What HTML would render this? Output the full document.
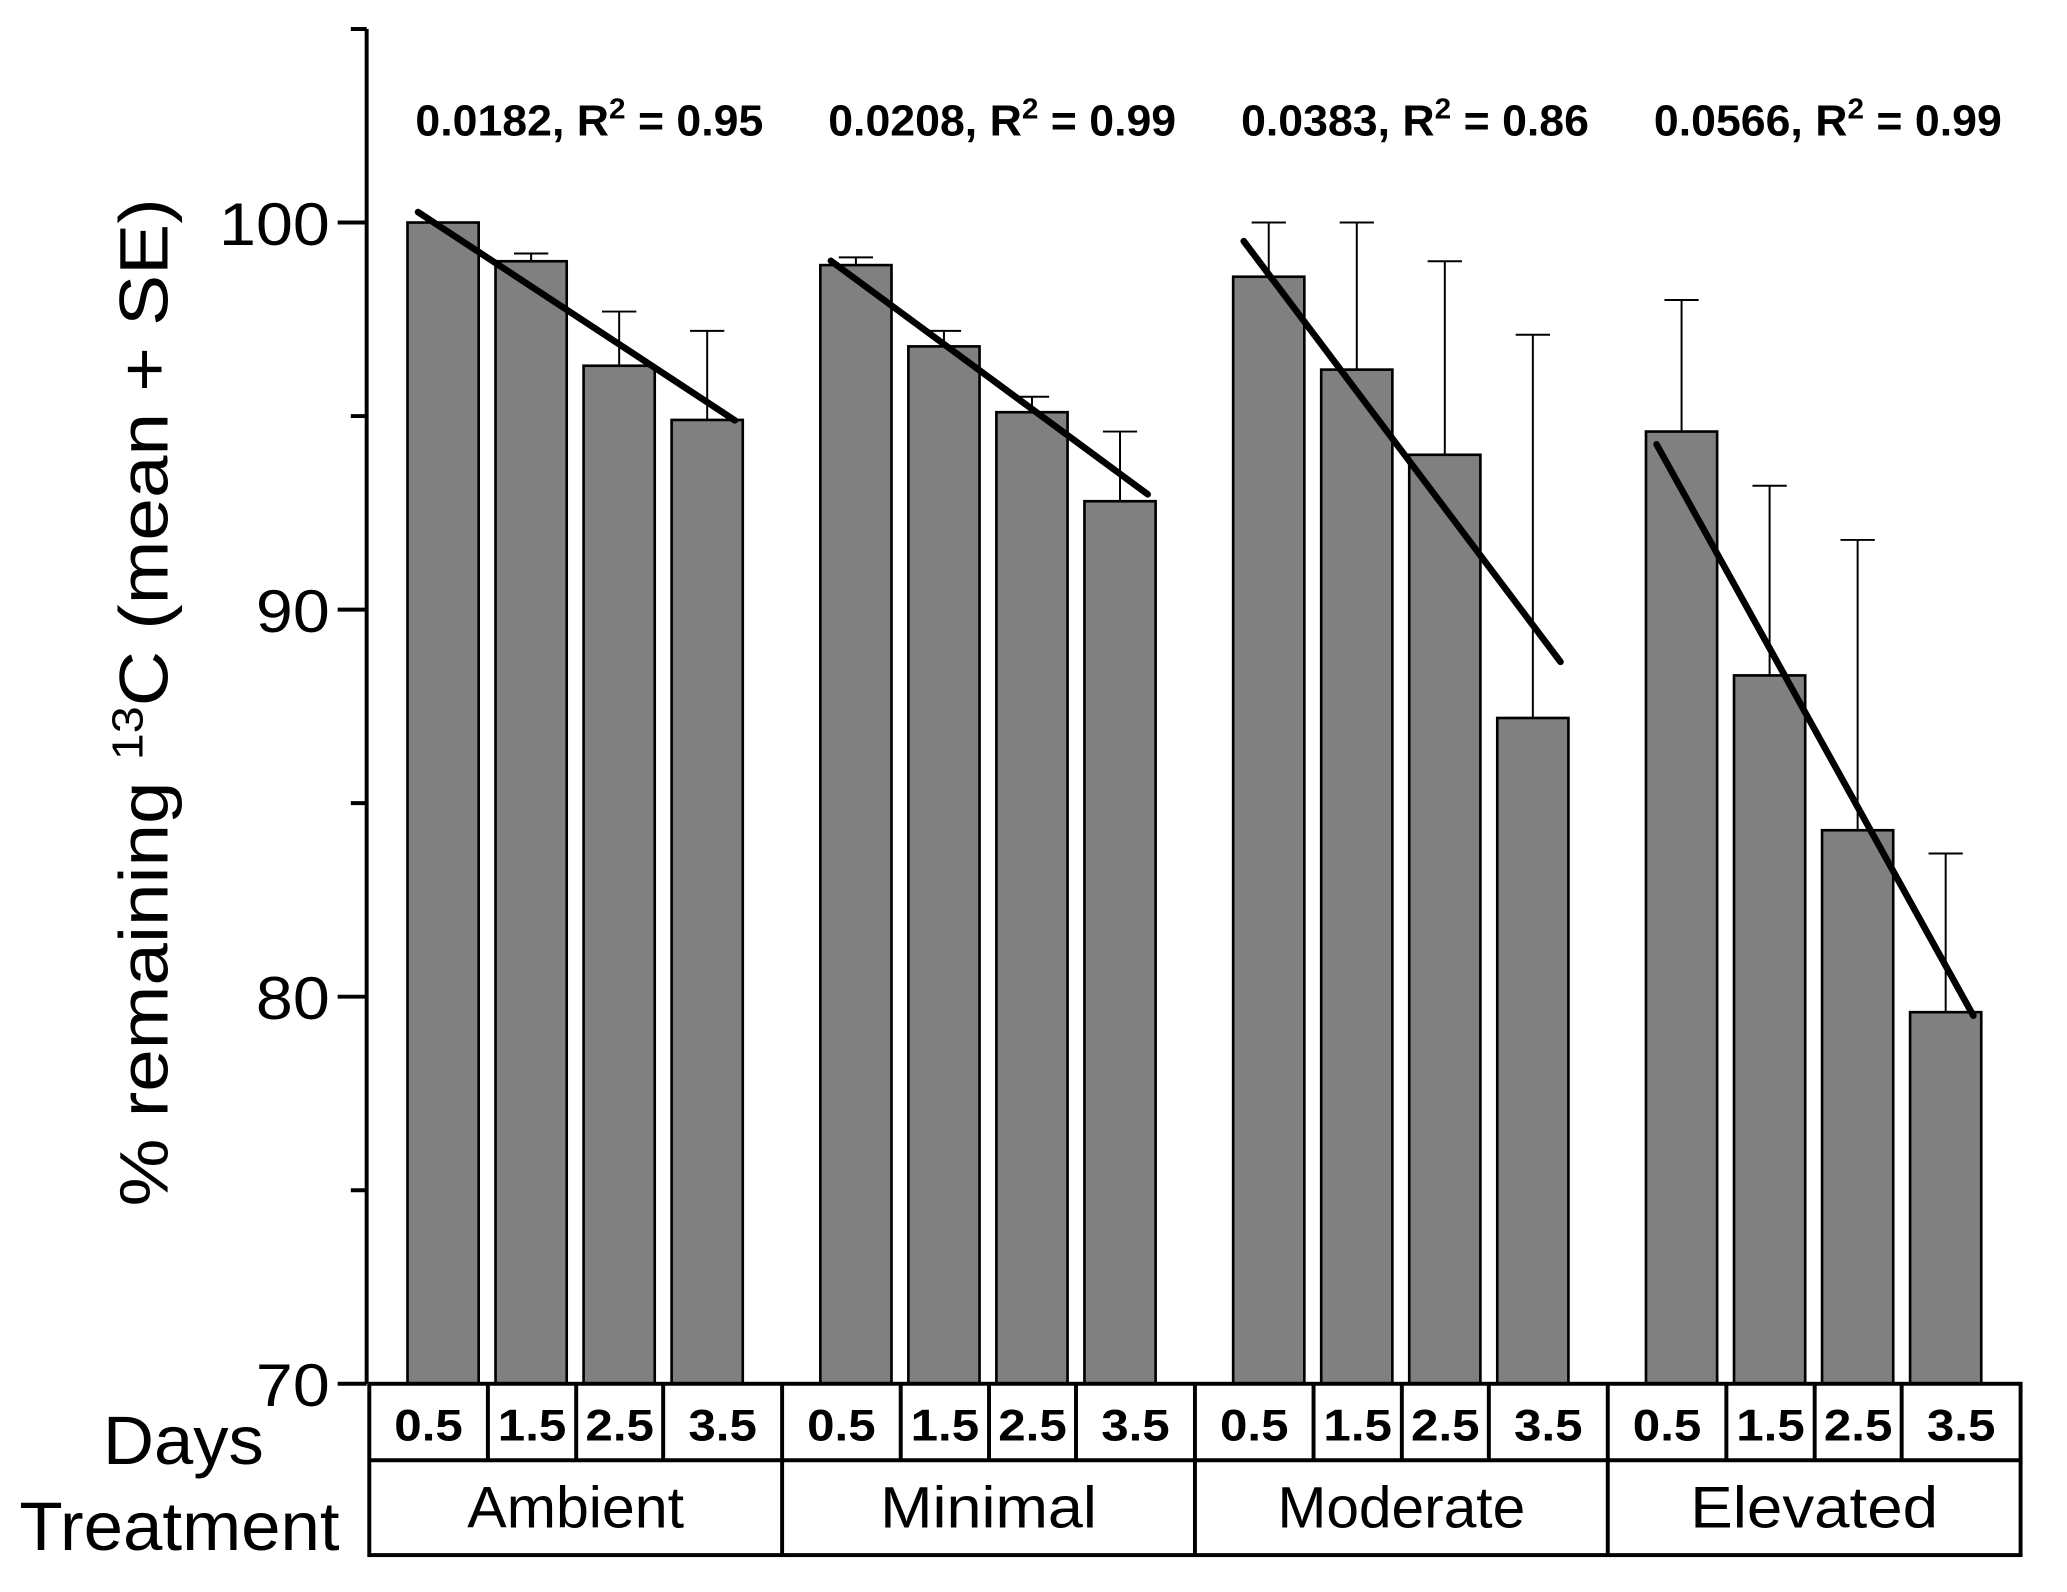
<!DOCTYPE html>
<html><head><meta charset="utf-8"><style>
html,body{margin:0;padding:0;background:#fff}
svg{display:block}
text{font-family:"Liberation Sans",Arial,sans-serif}
</style></head><body>
<svg id="chart" width="2067" height="1592" viewBox="0 0 1568 1208" xmlns="http://www.w3.org/2000/svg">
<g id="plot"></g>
</svg>
<script>
const groups = ["Ambient","Minimal","Moderate","Elevated"];
const days = ["0.5","1.5","2.5","3.5"];
const means = [[100,99.0,96.3,94.9],[98.9,96.8,95.1,92.8],[98.6,96.2,94.0,87.2],[94.6,88.3,84.3,79.6]];
const errTops = [[null,99.2,97.7,97.2],[99.1,97.2,95.5,94.6],[100,100,99.0,97.1],[98.0,93.2,91.8,83.7]];
const trendStart = [100.27,99.01,99.52,94.27];
const trendEnd = [94.89,92.98,88.65,79.51];
const rates = ["0.0182","0.0208","0.0383","0.0566"];
const r2 = ["0.95","0.99","0.86","0.99"];
const yTicks = [70,80,90,100];
const yMinor = [75,85,95,105];

const NS="http://www.w3.org/2000/svg";
const g=document.getElementById('plot');
const yMin=70,yMax=105,yTop=22,yBot=1050;
const Y=v=>yBot-(v-yMin)/(yMax-yMin)*(yBot-yTop);
const axX=278, tableL=280, tableR=1533;
const groupW=(tableR-tableL)/4;
const barW=54, barStep=66.8, barOff=29;
const X=(gi,bi)=>tableL+gi*groupW+barOff+bi*barStep;
function el(t,a,txt){const e=document.createElementNS(NS,t);for(const k in a)e.setAttribute(k,a[k]);if(txt!==undefined)e.textContent=txt;g.appendChild(e);return e;}

means.forEach((row,gi)=>row.forEach((v,bi)=>{
  const x=X(gi,bi);
  const e=errTops[gi][bi];
  if(e!==null){
    const l=el('line',{x1:x+barW/2,x2:x+barW/2,y1:Y(e),y2:Y(v),stroke:'#000','stroke-width':1.5});
    
    
    const c=el('line',{x1:x+barW/2-13,x2:x+barW/2+13,y1:Y(e),y2:Y(e),stroke:'#000','stroke-width':1.5});
    
    
  }
  const r=el('rect',{x:x,y:Y(v),width:barW,height:yBot-Y(v),fill:'#808080',stroke:'#000','stroke-width':2});
  
  
}));
groups.forEach((gname,gi)=>{
  const l=el('line',{x1:X(gi,0)+8,y1:Y(trendStart[gi]),x2:X(gi,3)+barW-6,y2:Y(trendEnd[gi]),stroke:'#000','stroke-width':5,'stroke-linecap':'round'});
  
  
  const t=el('text',{x:X(gi,0)+6,y:103,'font-size':33,'font-weight':'bold',textLength:264,lengthAdjust:'spacingAndGlyphs'});
  
  
  t.innerHTML=rates[gi]+', R<tspan dy="-13" font-size="22">2</tspan><tspan dy="13"> = '+r2[gi]+'</tspan>';
});
const ax=el('line',{x1:axX,x2:axX,y1:yTop,y2:yBot,stroke:'#000','stroke-width':3});


yTicks.forEach(v=>{
  const t=el('line',{x1:axX-22,x2:axX,y1:Y(v),y2:Y(v),stroke:'#000','stroke-width':3});
  
  
  const s=String(v);
  const l=el('text',{x:axX-28,y:Y(v)+17,'font-size':46,'text-anchor':'end',textLength:s.length*28,lengthAdjust:'spacingAndGlyphs'},s);
  
  
});
yMinor.forEach(v=>{
  const t=el('line',{x1:axX-12,x2:axX,y1:Y(v),y2:Y(v),stroke:'#000','stroke-width':3});
  
  
});
const yt=el('text',{x:0,y:0,'font-size':52,'text-anchor':'middle',transform:'translate(127,533) rotate(-90)',textLength:765,lengthAdjust:'spacingAndGlyphs'});


yt.innerHTML='% remaining <tspan dy="-19" font-size="33">13</tspan><tspan dy="19">C (mean + SE)</tspan>';
const tb=el('rect',{x:tableL,y:yBot,width:tableR-tableL,height:130,fill:'none',stroke:'#000','stroke-width':3});


const mid=el('line',{x1:tableL,x2:tableR,y1:1108,y2:1108,stroke:'#000','stroke-width':3});


const dayDiv=[90,157,223];
groups.forEach((gname,gi)=>{
  const gx=tableL+gi*groupW;
  if(gi>0){const d=el('line',{x1:gx,x2:gx,y1:yBot,y2:1180,stroke:'#000','stroke-width':3});
    
    }
  dayDiv.forEach(o=>{const d=el('line',{x1:gx+o,x2:gx+o,y1:yBot,y2:1108,stroke:'#000','stroke-width':3});
    
    });
  const cells=[0,90,157,223,groupW];
  days.forEach((d,bi)=>{
    const t=el('text',{x:gx+(cells[bi]+cells[bi+1])/2,y:1093,'font-size':34,'font-weight':'bold','text-anchor':'middle',textLength:52,lengthAdjust:'spacingAndGlyphs'},d);
    
    
  });
  const t=el('text',{x:gx+groupW/2,y:1159,'font-size':44,'text-anchor':'middle',textLength:gname.length*23.5,lengthAdjust:'spacingAndGlyphs'},gname);
  
  
});
const dl=el('text',{x:139,y:1111,'font-size':52,'text-anchor':'middle',textLength:122,lengthAdjust:'spacingAndGlyphs'},'Days');


const tl=el('text',{x:136,y:1176,'font-size':52,'text-anchor':'middle',textLength:243,lengthAdjust:'spacingAndGlyphs'},'Treatment');


</script>
</body></html>
